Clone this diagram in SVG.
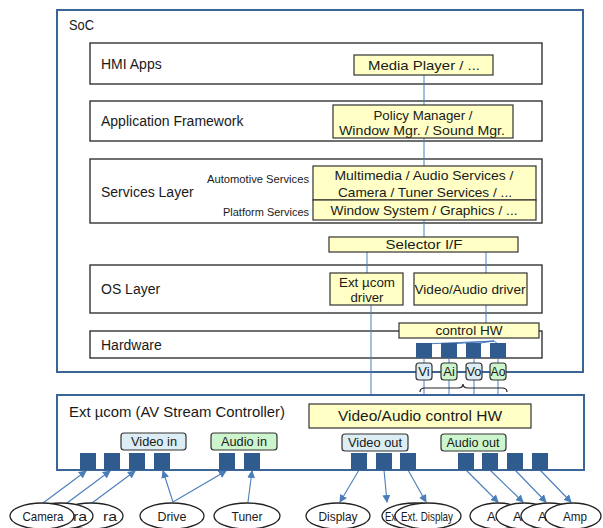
<svg xmlns="http://www.w3.org/2000/svg" width="603" height="528" viewBox="0 0 603 528">
<defs>
<style>
text{font-family:"Liberation Sans",Arial,sans-serif;fill:#1a1a1a}
.frame{fill:#fff;stroke:#3b6596;stroke-width:2}
.layer{fill:#fff;stroke:#333;stroke-width:1.4}
.yel{fill:#ffffc6;stroke:#333;stroke-width:1.2}
.sq{fill:#2f5b8e}
.lb{fill:#dcedf4;stroke:#333;stroke-width:1.2}
.lg{fill:#cdf5cd;stroke:#333;stroke-width:1.2}
.ln{stroke:#4a7ebb;stroke-width:1;fill:none}
.arr{stroke:#4a7ebb;stroke-width:1.1;fill:none;marker-end:url(#ah)}
.ell{fill:#fff;stroke:#222;stroke-width:1.3}
.t15{font-size:15px}
.t14{font-size:14px}
.t13{font-size:13.5px}
.t12{font-size:13px}
.t10{font-size:10.5px}
.mid{text-anchor:middle}
</style>
<marker id="ah" markerWidth="8" markerHeight="8" refX="7" refY="4" orient="auto" markerUnits="userSpaceOnUse">
<path d="M0,0 L8,4 L0,8 Z" fill="#4a7ebb"/>
</marker>
</defs>
<rect width="603" height="528" fill="#fff"/>

<g id="soc">
<rect class="frame" x="57" y="10" width="526" height="362"/>
<text class="t14" x="69" y="30" textLength="25" lengthAdjust="spacingAndGlyphs">SoC</text>
</g>

<g id="hmi-apps">
<rect class="layer" x="90" y="43" width="452" height="41"/>
<text class="t14" x="101" y="69">HMI Apps</text>
</g>
<g id="app-framework">
<rect class="layer" x="90" y="101" width="452" height="40"/>
<text class="t14" x="101" y="126">Application Framework</text>
</g>
<g id="services-layer">
<rect class="layer" x="90" y="159" width="452" height="64"/>
<text class="t14" x="101" y="197">Services Layer</text>
<text class="t10" x="309" y="183" text-anchor="end" textLength="102" lengthAdjust="spacingAndGlyphs">Automotive Services</text>
<text class="t10" x="309" y="216" text-anchor="end" textLength="86" lengthAdjust="spacingAndGlyphs">Platform Services</text>
</g>
<g id="os-layer">
<rect class="layer" x="90" y="265" width="452" height="48"/>
<text class="t14" x="101" y="294">OS Layer</text>
</g>
<g id="hardware">
<rect class="layer" x="90" y="331" width="452" height="27"/>
<text class="t14" x="101" y="350">Hardware</text>
</g>

<g id="connectors">
<line class="ln" x1="424" y1="74" x2="424" y2="105"/>
<line class="ln" x1="424" y1="138" x2="424" y2="166"/>
<line class="ln" x1="424" y1="220" x2="424" y2="237"/>
<line class="ln" x1="367" y1="252" x2="367" y2="273"/>
<line class="ln" x1="486" y1="252" x2="486" y2="273"/>
<line class="ln" x1="486" y1="305" x2="486" y2="323"/>
<line class="ln" x1="371" y1="305" x2="371" y2="404"/>
<line class="ln" x1="424" y1="358" x2="424" y2="404"/>
<line class="ln" x1="449" y1="358" x2="449" y2="404"/>
<line class="ln" x1="474" y1="358" x2="474" y2="404"/>
<line class="ln" x1="498" y1="358" x2="498" y2="404"/>
<line class="ln" x1="494" y1="341" x2="424" y2="344"/>
<line class="ln" x1="494" y1="341" x2="449" y2="344"/>
<line class="ln" x1="494" y1="341" x2="474" y2="344"/>
<line class="ln" x1="494" y1="341" x2="498" y2="344"/>
<line class="ln" x1="423" y1="429" x2="95" y2="453"/>
<line class="ln" x1="423" y1="429" x2="119" y2="453"/>
<line class="ln" x1="423" y1="429" x2="143" y2="453"/>
<line class="ln" x1="423" y1="429" x2="168" y2="453"/>
<line class="ln" x1="423" y1="429" x2="232" y2="453"/>
<line class="ln" x1="423" y1="429" x2="257" y2="453"/>
<line class="ln" x1="423" y1="429" x2="359" y2="453"/>
<line class="ln" x1="423" y1="429" x2="384" y2="453"/>
<line class="ln" x1="423" y1="429" x2="408" y2="453"/>
<line class="ln" x1="423" y1="429" x2="468" y2="453"/>
<line class="ln" x1="423" y1="429" x2="495" y2="453"/>
<line class="ln" x1="423" y1="429" x2="521" y2="453"/>
<line class="ln" x1="423" y1="429" x2="546" y2="453"/>
<line class="arr" x1="43" y1="503" x2="86" y2="471"/>
<line class="arr" x1="67" y1="503" x2="110" y2="471"/>
<line class="arr" x1="92" y1="503" x2="135" y2="471"/>
<line class="arr" x1="173" y1="502" x2="163" y2="471"/>
<line class="arr" x1="173" y1="502" x2="226" y2="471"/>
<line class="arr" x1="248" y1="502" x2="252" y2="471"/>
<line class="arr" x1="359" y1="470" x2="340" y2="502"/>
<line class="arr" x1="384" y1="470" x2="387" y2="502"/>
<line class="arr" x1="408" y1="470" x2="426" y2="502"/>
<line class="arr" x1="466" y1="470" x2="498" y2="502"/>
<line class="arr" x1="490" y1="470" x2="523" y2="502"/>
<line class="arr" x1="515" y1="470" x2="546" y2="502"/>
<line class="arr" x1="540" y1="470" x2="571" y2="502"/>
</g>

<g id="media-player">
<rect class="yel" x="354" y="55" width="139" height="20"/>
<text class="t13 mid" x="424" y="70" textLength="112" lengthAdjust="spacingAndGlyphs">Media Player / ...</text>
</g>
<g id="policy-manager">
<rect class="yel" x="333" y="105" width="180" height="33"/>
<text class="t13 mid" x="423" y="120" textLength="99" lengthAdjust="spacingAndGlyphs">Policy Manager /</text>
<text class="t13 mid" x="422" y="135" textLength="166" lengthAdjust="spacingAndGlyphs">Window Mgr. / Sound Mgr.</text>
</g>
<g id="automotive-services">
<rect class="yel" x="313" y="166" width="223" height="34"/>
<text class="t13 mid" x="424" y="180" textLength="179" lengthAdjust="spacingAndGlyphs">Multimedia / Audio Services /</text>
<text class="t13 mid" x="425" y="197" textLength="174" lengthAdjust="spacingAndGlyphs">Camera / Tuner Services / ...</text>
</g>
<g id="platform-services">
<rect class="yel" x="313" y="200" width="223" height="20"/>
<text class="t13 mid" x="424" y="215" textLength="187" lengthAdjust="spacingAndGlyphs">Window System / Graphics / ...</text>
</g>
<g id="selector-if">
<rect class="yel" x="329" y="237" width="189" height="15"/>
<text class="t13 mid" x="424" y="249" textLength="77" lengthAdjust="spacingAndGlyphs">Selector I/F</text>
</g>
<g id="ext-ucom-driver">
<rect class="yel" x="330" y="273" width="73" height="32"/>
<text class="t13 mid" x="367" y="287" textLength="56" lengthAdjust="spacingAndGlyphs">Ext µcom</text>
<text class="t13 mid" x="367" y="302" textLength="33" lengthAdjust="spacingAndGlyphs">driver</text>
</g>
<g id="video-audio-driver">
<rect class="yel" x="414" y="273" width="113" height="32"/>
<text class="t13 mid" x="470" y="294" textLength="111" lengthAdjust="spacingAndGlyphs">Video/Audio driver</text>
</g>
<g id="control-hw">
<rect class="yel" x="399" y="323" width="140" height="15"/>
<text class="t13 mid" x="469" y="335" textLength="67" lengthAdjust="spacingAndGlyphs">control HW</text>
</g>
<g id="hw-ports">
<rect class="sq" x="416" y="343" width="16" height="15"/>
<rect class="sq" x="441" y="343" width="16" height="15"/>
<rect class="sq" x="466" y="343" width="15" height="15"/>
<rect class="sq" x="490" y="343" width="16" height="15"/>
</g>

<g id="ext-ucom">
<rect class="frame" x="57" y="395" width="527" height="75"/>
<text class="t15" x="69" y="417" textLength="216" lengthAdjust="spacingAndGlyphs">Ext µcom (AV Stream Controller)</text>
</g>

<g id="port-labels">
<rect class="lb" x="416" y="363" width="16" height="17" rx="3"/>
<text class="t12 mid" x="424" y="376">Vi</text>
<rect class="lg" x="441" y="363" width="16" height="17" rx="3"/>
<text class="t12 mid" x="449" y="376">Ai</text>
<rect class="lb" x="466" y="363" width="16" height="17" rx="3"/>
<text class="t12 mid" x="474" y="376" textLength="15" lengthAdjust="spacingAndGlyphs">Vo</text>
<rect class="lg" x="490" y="363" width="16" height="17" rx="3"/>
<text class="t12 mid" x="498" y="376" textLength="15" lengthAdjust="spacingAndGlyphs">Ao</text>
<path d="M420,392 Q420,388 425,388 L458,388 Q463,388 463,384 Q463,388 468,388 L502,388 Q507,388 507,392" fill="none" stroke="#222" stroke-width="1.2"/>
</g>

<g id="av-control-hw">
<rect class="yel" x="309" y="404" width="222" height="24"/>
<text class="t15 mid" x="420" y="421" textLength="164" lengthAdjust="spacingAndGlyphs">Video/Audio control HW</text>
</g>

<g id="video-in">
<rect class="lb" x="121" y="433" width="65" height="17" rx="3"/>
<text class="t12 mid" x="154" y="446" textLength="46" lengthAdjust="spacingAndGlyphs">Video in</text>
</g>
<g id="audio-in">
<rect class="lg" x="211" y="433" width="66" height="17" rx="3"/>
<text class="t12 mid" x="244" y="446" textLength="46" lengthAdjust="spacingAndGlyphs">Audio in</text>
</g>
<g id="video-out">
<rect class="lb" x="342" y="434" width="66" height="17" rx="3"/>
<text class="t12 mid" x="375" y="447" textLength="54" lengthAdjust="spacingAndGlyphs">Video out</text>
</g>
<g id="audio-out">
<rect class="lg" x="441" y="434" width="65" height="17" rx="3"/>
<text class="t12 mid" x="473" y="447" textLength="53" lengthAdjust="spacingAndGlyphs">Audio out</text>
</g>

<g id="ext-ports">
<rect class="sq" x="80" y="453" width="16" height="17"/>
<rect class="sq" x="104" y="453" width="16" height="17"/>
<rect class="sq" x="129" y="453" width="16" height="17"/>
<rect class="sq" x="154" y="453" width="16" height="17"/>
<rect class="sq" x="219" y="453" width="16" height="17"/>
<rect class="sq" x="244" y="453" width="16" height="17"/>
<rect class="sq" x="351" y="453" width="16" height="17"/>
<rect class="sq" x="376" y="453" width="16" height="17"/>
<rect class="sq" x="400" y="453" width="16" height="17"/>
<rect class="sq" x="458" y="453" width="16" height="17"/>
<rect class="sq" x="482" y="453" width="16" height="17"/>
<rect class="sq" x="507" y="453" width="16" height="17"/>
<rect class="sq" x="532" y="453" width="16" height="17"/>
</g>

<g id="camera-3">
<ellipse class="ell" cx="91" cy="516" rx="32" ry="13"/>
<text class="t12" x="103" y="521" textLength="14" lengthAdjust="spacingAndGlyphs">ra</text>
</g>
<g id="camera-2">
<ellipse class="ell" cx="61" cy="516" rx="32" ry="13"/>
<text class="t12" x="73" y="521" textLength="14" lengthAdjust="spacingAndGlyphs">ra</text>
</g>
<g id="camera-1">
<ellipse class="ell" cx="42" cy="516" rx="32" ry="13"/>
<text class="t12 mid" x="43" y="521" textLength="41" lengthAdjust="spacingAndGlyphs">Camera</text>
</g>
<g id="drive">
<ellipse class="ell" cx="172" cy="516" rx="32" ry="13"/>
<text class="t12 mid" x="172" y="521" textLength="29" lengthAdjust="spacingAndGlyphs">Drive</text>
</g>
<g id="tuner">
<ellipse class="ell" cx="247" cy="516" rx="33" ry="13"/>
<text class="t12 mid" x="247" y="521" textLength="31" lengthAdjust="spacingAndGlyphs">Tuner</text>
</g>
<g id="display">
<ellipse class="ell" cx="338" cy="516" rx="32" ry="13"/>
<text class="t12 mid" x="338" y="521" textLength="39" lengthAdjust="spacingAndGlyphs">Display</text>
</g>
<g id="ext-display-1">
<ellipse class="ell" cx="415" cy="516" rx="33" ry="13"/>
<text class="t12" x="385" y="521" textLength="11" lengthAdjust="spacingAndGlyphs">Ex</text>
</g>
<g id="ext-display-2">
<ellipse class="ell" cx="428" cy="516" rx="33" ry="13"/>
<text class="t12 mid" x="427" y="521" textLength="52" lengthAdjust="spacingAndGlyphs">Ext. Display</text>
</g>
<g id="amp-1">
<ellipse class="ell" cx="498" cy="516" rx="28" ry="13"/>
<text class="t12" x="487" y="521">A</text>
</g>
<g id="amp-2">
<ellipse class="ell" cx="524" cy="516" rx="28" ry="13"/>
<text class="t12" x="513" y="521">A</text>
</g>
<g id="amp-3">
<ellipse class="ell" cx="549" cy="516" rx="28" ry="13"/>
<text class="t12" x="538" y="521">A</text>
</g>
<g id="amp-4">
<ellipse class="ell" cx="573" cy="516" rx="28" ry="13"/>
<text class="t12 mid" x="575" y="521" textLength="24" lengthAdjust="spacingAndGlyphs">Amp</text>
</g>
</svg>
